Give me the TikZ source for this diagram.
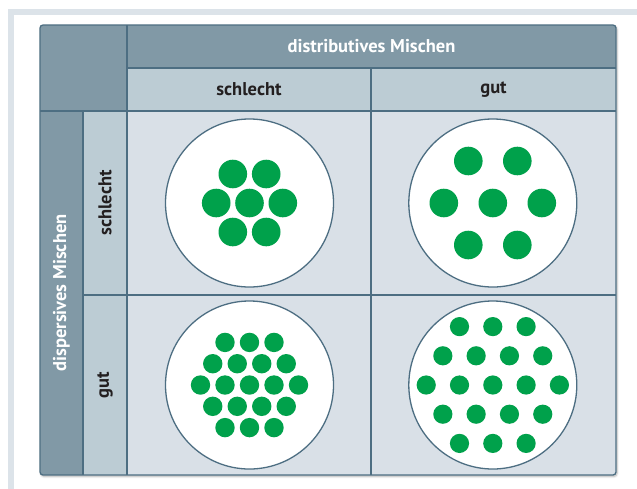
\documentclass[tikz,border=0pt]{standalone}
\usepackage{fontspec}
\setmainfont{PT Sans}
\usetikzlibrary{shadows.blur}
\definecolor{hdark}{HTML}{8199A6}
\definecolor{hlight}{HTML}{BCCCD4}
\definecolor{cellbg}{HTML}{D9E0E7}
\definecolor{edge}{HTML}{4D6E82}
\definecolor{frameband}{HTML}{DCE3E9}
\definecolor{dotgreen}{HTML}{00A14B}
\definecolor{txtdark}{HTML}{231F20}
\tikzset{
  headtxt/.style={font=\fontsize{18.5}{20}\selectfont\bfseries, text=white},
  subtxt/.style={font=\fontsize{18.5}{20}\selectfont\bfseries, text=txtdark},
  plate/.style={circle, draw=edge, line width=1.3pt, fill=white, minimum size=168pt, inner sep=0pt},
  dot/.style={fill=dotgreen},
}
\begin{document}
\begin{tikzpicture}[x=1pt,y=-1pt]
\useasboundingbox (0,0) rectangle (637,488);
% outer frame band
\draw[frameband, line width=5.5pt] (11,490) -- (11,11.8) -- (640,11.8);
% table background with shadow
\fill[white, rounded corners=3pt, blur shadow={shadow xshift=1pt, shadow yshift=-1.5pt, shadow blur steps=6, shadow opacity=30}] (40,25) rectangle (616,475);
\begin{scope}
\clip[rounded corners=3pt] (40,25) rectangle (616,475);
\fill[hdark] (40,25) rectangle (616,111);
\fill[hdark] (40,111) rectangle (83,475);
\fill[hlight] (127,68) rectangle (616,111);
\fill[hlight] (83,111) rectangle (127,475);
\fill[cellbg] (127,111) rectangle (616,475);
\end{scope}
% grid lines
\draw[edge, line width=1.2pt] (127,68) -- (616,68);
\draw[edge, line width=1.2pt] (40,111) -- (616,111);
\draw[edge, line width=1.2pt] (127,25) -- (127,475);
\draw[edge, line width=1.2pt] (83,111) -- (83,475);
\draw[edge, line width=1.2pt] (371,68) -- (371,475);
\draw[edge, line width=1.2pt] (83,295) -- (616,295);
\draw[edge, line width=1.3pt, rounded corners=3pt] (40,25) rectangle (616,475);
% labels
\node[headtxt] (hdist) at (371.5,46.5) {distributives Mischen};
\node[subtxt] (hs) at (249,89.5) {schlecht};
\node[subtxt] (hg) at (493.5,89.5) {gut};
\node[headtxt, rotate=90] (hdisp) at (61.5,293) {dispersives Mischen};
\node[subtxt, rotate=90] (vs) at (105,203) {schlecht};
\node[subtxt, rotate=90] (vg) at (105,385) {gut};
% plates
\node[plate] (p11) at (249.5,203) {};
\node[plate] (p12) at (492.8,203) {};
\node[plate] (p21) at (249.5,385) {};
\node[plate] (p22) at (492.8,385) {};
% p11 dots
\foreach \dx/\dy in {-16.7/-29,16.7/-29,-33.3/0,0/0,33.3/0,-16.7/29,16.7/29}
  \fill[dot] ([shift={(\dx,\dy)}]p11.center) circle (14.3);
% p12 dots
\foreach \dx/\dy in {-24.5/-42,24.5/-42,-49/0,0/0,49/0,-24.5/42,24.5/42}
  \fill[dot] ([shift={(\dx,\dy)}]p12.center) circle (14.3);
% p21 dots
\foreach \r/\n in {-2/3,-1/4,0/5,1/4,2/3}{
  \pgfmathsetmacro{\st}{-(\n-1)/2}
  \foreach \k in {1,...,\n}{
    \fill[dot] ([shift={({(\st+\k-1)*24.5},{\r*21.3})}]p21.center) circle (9.7);
  }
}
% p22 dots
\foreach \r/\n in {-2/3,-1/4,0/5,1/4,2/3}{
  \pgfmathsetmacro{\st}{-(\n-1)/2}
  \foreach \k in {1,...,\n}{
    \fill[dot] ([shift={({(\st+\k-1)*33.3},{\r*29.2})}]p22.center) circle (9.6);
  }
}
\end{tikzpicture}
\end{document}
